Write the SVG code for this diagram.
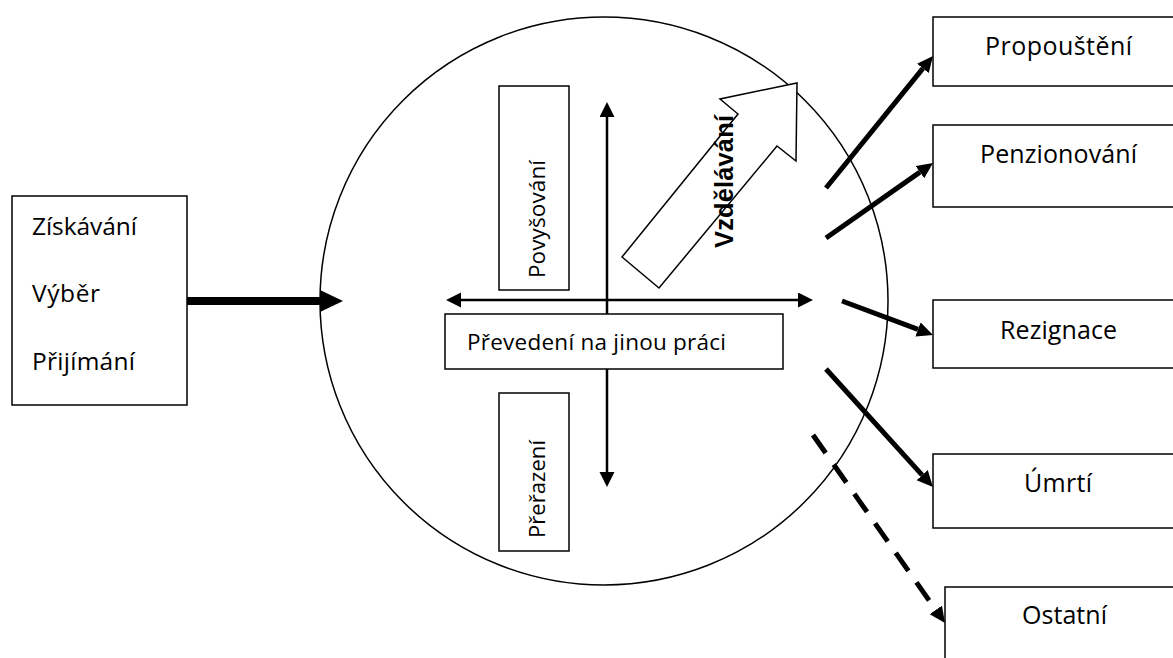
<svg xmlns="http://www.w3.org/2000/svg" width="1173" height="658" viewBox="0 0 1173 658">
  <style>
    .box { fill: #fff; stroke: #000; stroke-width: 1.5; }
    .lbl { font-family: "Open Sans", "Liberation Sans", sans-serif; fill: #000; }
    .thin { stroke: #000; stroke-width: 2.5; fill: none; }
    .thick { stroke: #000; stroke-width: 5; fill: none; }
    .dash { stroke-dasharray: 22 14; }
  </style>
  <defs>
    <marker id="headBig" markerUnits="userSpaceOnUse" markerWidth="24" markerHeight="24" refX="0" refY="11" orient="auto">
      <path d="M0,0 L23,11 L0,22 Z" fill="#000"/>
    </marker>
    <marker id="headMid" markerUnits="userSpaceOnUse" markerWidth="18" markerHeight="16" refX="0" refY="7.5" orient="auto">
      <path d="M0,0 L16,7.5 L0,15 Z" fill="#000"/>
    </marker>
    <marker id="headThin" markerUnits="userSpaceOnUse" markerWidth="16" markerHeight="16" refX="0" refY="7.5" orient="auto-start-reverse">
      <path d="M0,0 L15,7.5 L0,15 Z" fill="#000"/>
    </marker>
  </defs>

  <!-- central circle -->
  <circle id="core" cx="604" cy="301" r="284" fill="none" stroke="#000" stroke-width="1.5"/>

  <g id="connectors">
    <!-- inflow -->
    <line x1="187" y1="301" x2="320" y2="301" stroke="#000" stroke-width="8" marker-end="url(#headBig)"/>
    <!-- inner axes -->
    <line class="thin" x1="607" y1="117" x2="607" y2="472" marker-start="url(#headThin)" marker-end="url(#headThin)"/>
    <line class="thin" x1="461" y1="300" x2="798" y2="300" marker-start="url(#headThin)" marker-end="url(#headThin)"/>
    <!-- outflows -->
    <line class="thick" x1="826" y1="188" x2="922.9" y2="68.4" marker-end="url(#headMid)"/>
    <line class="thick" x1="826" y1="238" x2="919.9" y2="172.1" marker-end="url(#headMid)"/>
    <line class="thick" x1="842" y1="301" x2="918" y2="329.4" marker-end="url(#headMid)"/>
    <line class="thick" x1="826" y1="369" x2="922.2" y2="475.1" marker-end="url(#headMid)"/>
    <line class="thick dash" x1="813" y1="435" x2="935.8" y2="609.9" marker-end="url(#headMid)"/>
  </g>

  <g id="sources">
    <rect class="box" x="12" y="196" width="175" height="209"/>
    <text class="lbl" x="32" y="235" font-size="24.5" textLength="105">Získávání</text>
    <text class="lbl" x="32" y="302" font-size="24.5" textLength="68">Výběr</text>
    <text class="lbl" x="32" y="370" font-size="24.5" textLength="103">Přijímání</text>
  </g>

  <g id="povysovani">
    <rect class="box" x="499" y="86" width="70" height="204"/>
    <text class="lbl" transform="translate(545,278) rotate(-90)" font-size="22.5" textLength="118">Povyšování</text>
  </g>

  <g id="prevedeni">
    <rect class="box" x="445" y="314" width="338" height="55"/>
    <text class="lbl" x="467" y="350" font-size="22.5" textLength="259">Převedení na jinou práci</text>
  </g>

  <g id="prerazeni">
    <rect class="box" x="499" y="393" width="70" height="158"/>
    <text class="lbl" transform="translate(545,538) rotate(-90)" font-size="22" textLength="98">Přeřazení</text>
  </g>

  <g id="vzdelavani">
    <polygon class="box" points="622,257 738,114 720,99 797,83 796,161 777,146 659,288"/>
    <text transform="translate(733,248) rotate(-90)" font-family="Liberation Sans, Arial, sans-serif" font-weight="bold" font-size="25.5" textLength="133">Vzdělávání</text>
  </g>

  <g id="propousteni">
    <rect class="box" x="933" y="17" width="250" height="69"/>
    <text class="lbl" x="1058.5" y="55" font-size="25" text-anchor="middle" textLength="147">Propouštění</text>
  </g>

  <g id="penzionovani">
    <rect class="box" x="933" y="125" width="250" height="82"/>
    <text class="lbl" x="1058.5" y="163" font-size="25" text-anchor="middle" textLength="157">Penzionování</text>
  </g>

  <g id="rezignace">
    <rect class="box" x="933" y="300" width="250" height="68"/>
    <text class="lbl" x="1058.5" y="339" font-size="25" text-anchor="middle" textLength="117">Rezignace</text>
  </g>

  <g id="umrti">
    <rect class="box" x="933" y="454" width="250" height="74"/>
    <text class="lbl" x="1058" y="492" font-size="25" text-anchor="middle" textLength="68">Úmrtí</text>
  </g>

  <g id="ostatni">
    <rect class="box" x="945" y="587" width="240" height="90"/>
    <text class="lbl" x="1064.5" y="624" font-size="25" text-anchor="middle" textLength="85">Ostatní</text>
  </g>
</svg>
